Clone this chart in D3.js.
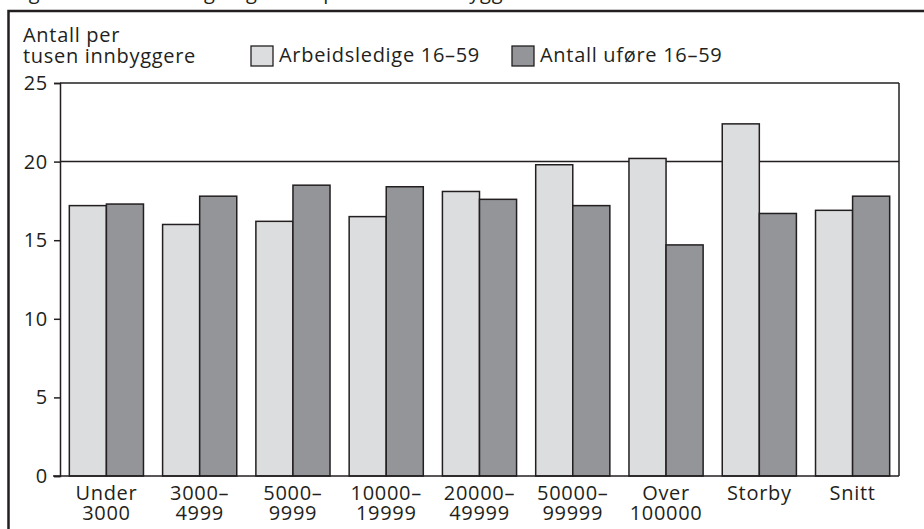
<!DOCTYPE html>
<html>
<head>
<meta charset="utf-8">
<script src="https://cdn.jsdelivr.net/npm/d3@7"></script>
<style>
  body { margin: 0; background: #fff; }
  text { font-family: "Open Sans", "Noto Sans", sans-serif; fill: #231f20; letter-spacing: 0.7px; }
</style>
</head>
<body>
<div class="chart"></div>
<script>
// data
var categories = ["Under 3000", "3000–4999", "5000–9999", "10000–19999", "20000–49999",
                  "50000–99999", "Over 100000", "Storby", "Snitt"];
var labelLines = [["Under", "3000"], ["3000–", "4999"], ["5000–", "9999"], ["10000–", "19999"],
                  ["20000–", "49999"], ["50000–", "99999"], ["Over", "100000"], ["Storby"], ["Snitt"]];
var seriesNames = ["Arbeidsledige 16–59", "Antall uføre 16–59"];
var arbeidsledige = [17.2, 16.0, 16.2, 16.5, 18.1, 19.8, 20.2, 22.4, 16.9];
var ufore = [17.3, 17.8, 18.5, 18.4, 17.6, 17.2, 14.7, 16.7, 17.8];
var yTicks = [0, 5, 10, 15, 20, 25];
var gridValues = [20, 25];

var svgWidth = 924;
var svgHeight = 529;
var margin = { top: 83, right: 25, bottom: 53, left: 60 };
var width = svgWidth - margin.left - margin.right;
var height = svgHeight - margin.top - margin.bottom;

var colors = ["#dcdddf", "#939598"];
var ink = "#231f20";
var fontSize = "20px";

var svg = d3.select(".chart")
    .append("svg")
    .attr("width", svgWidth)
    .attr("height", svgHeight);

// outer frame (runs off the right and bottom edge)
svg.append("path")
    .attr("d", "M8.5,540 V11 H940")
    .attr("fill", "none")
    .attr("stroke", ink)
    .attr("stroke-width", 2.5);

// cut-off figure title above the frame
svg.append("text")
    .attr("x", 12)
    .attr("y", -1)
    .style("font-size", fontSize)
    .text("Figur 4.2 Antall ledige og uføre per tusen innbyggere");

var chartGroup = svg.append("g")
    .attr("transform", `translate(${margin.left},${margin.top})`);

var x0 = d3.scaleBand()
    .domain(categories)
    .range([0, width])
    .paddingInner(0.205)
    .paddingOuter(0.1);

var x1 = d3.scaleBand()
    .domain([0, 1])
    .range([0, x0.bandwidth()]);

var y = d3.scaleLinear()
    .domain([0, 25])
    .range([height, 0]);

// grid lines at 20 and 25, right border
chartGroup.selectAll(".grid")
    .data(gridValues)
    .enter()
    .append("line")
    .attr("x1", 0)
    .attr("x2", width)
    .attr("y1", d => y(d))
    .attr("y2", d => y(d))
    .attr("stroke", ink)
    .attr("stroke-width", 1.5);

chartGroup.append("line")
    .attr("x1", width).attr("x2", width)
    .attr("y1", y(25)).attr("y2", y(0))
    .attr("stroke", ink)
    .attr("stroke-width", 1.5);

// bars
var rows = categories.map((c, i) => ({ cat: c, values: [arbeidsledige[i], ufore[i]] }));

var groups = chartGroup.selectAll(".group")
    .data(rows)
    .enter()
    .append("g")
    .attr("transform", d => `translate(${x0(d.cat)},0)`);

groups.selectAll("rect")
    .data(d => d.values.map((v, k) => ({ k: k, v: v })))
    .enter()
    .append("rect")
    .attr("x", d => x1(d.k))
    .attr("y", d => y(d.v))
    .attr("width", x1.bandwidth())
    .attr("height", d => y(0) - y(d.v))
    .attr("fill", d => colors[d.k])
    .attr("stroke", ink)
    .attr("stroke-width", 1.5);

// y axis
var leftAxis = d3.axisLeft(y)
    .tickValues(yTicks)
    .tickSize(6)
    .tickPadding(6)
    .tickFormat(d3.format("d"));

var yAxis = chartGroup.append("g").call(leftAxis);
yAxis.select(".domain").attr("stroke", ink).attr("stroke-width", 1.5);
yAxis.selectAll(".tick line").attr("stroke", ink).attr("stroke-width", 1.5);
yAxis.selectAll(".tick text")
    .attr("fill", ink)
    .style("font-size", fontSize)
    .style("font-family", "'Open Sans', 'Noto Sans', sans-serif");

// baseline
chartGroup.append("line")
    .attr("x1", -7).attr("x2", width)
    .attr("y1", y(0)).attr("y2", y(0))
    .attr("stroke", ink)
    .attr("stroke-width", 1.5);

// x labels
var xLabels = chartGroup.selectAll(".xlabel")
    .data(rows)
    .enter()
    .append("text")
    .attr("text-anchor", "middle")
    .attr("transform", d => `translate(${x0(d.cat) + x0.bandwidth() / 2},${height + 24})`)
    .style("font-size", fontSize);

xLabels.each(function(d, i) {
  var t = d3.select(this);
  labelLines[i].forEach(function(line, j) {
    t.append("tspan")
      .attr("x", 0)
      .attr("y", j * 20)
      .text(line);
  });
});

// y axis title
svg.append("text")
    .attr("x", 23)
    .attr("y", 42)
    .style("font-size", fontSize)
    .text("Antall per");
svg.append("text")
    .attr("x", 23)
    .attr("y", 63)
    .style("font-size", fontSize)
    .text("tusen innbyggere");

// legend
var legendX = [251, 512];
var legend = svg.selectAll(".legend")
    .data(seriesNames)
    .enter()
    .append("g")
    .attr("transform", (d, i) => `translate(${legendX[i]},46)`);

legend.append("rect")
    .attr("width", 22)
    .attr("height", 20)
    .attr("fill", (d, i) => colors[i])
    .attr("stroke", ink)
    .attr("stroke-width", 1.3);

legend.append("text")
    .attr("x", 28)
    .attr("y", 16)
    .style("font-size", fontSize)
    .text(d => d);
</script>
</body>
</html>
